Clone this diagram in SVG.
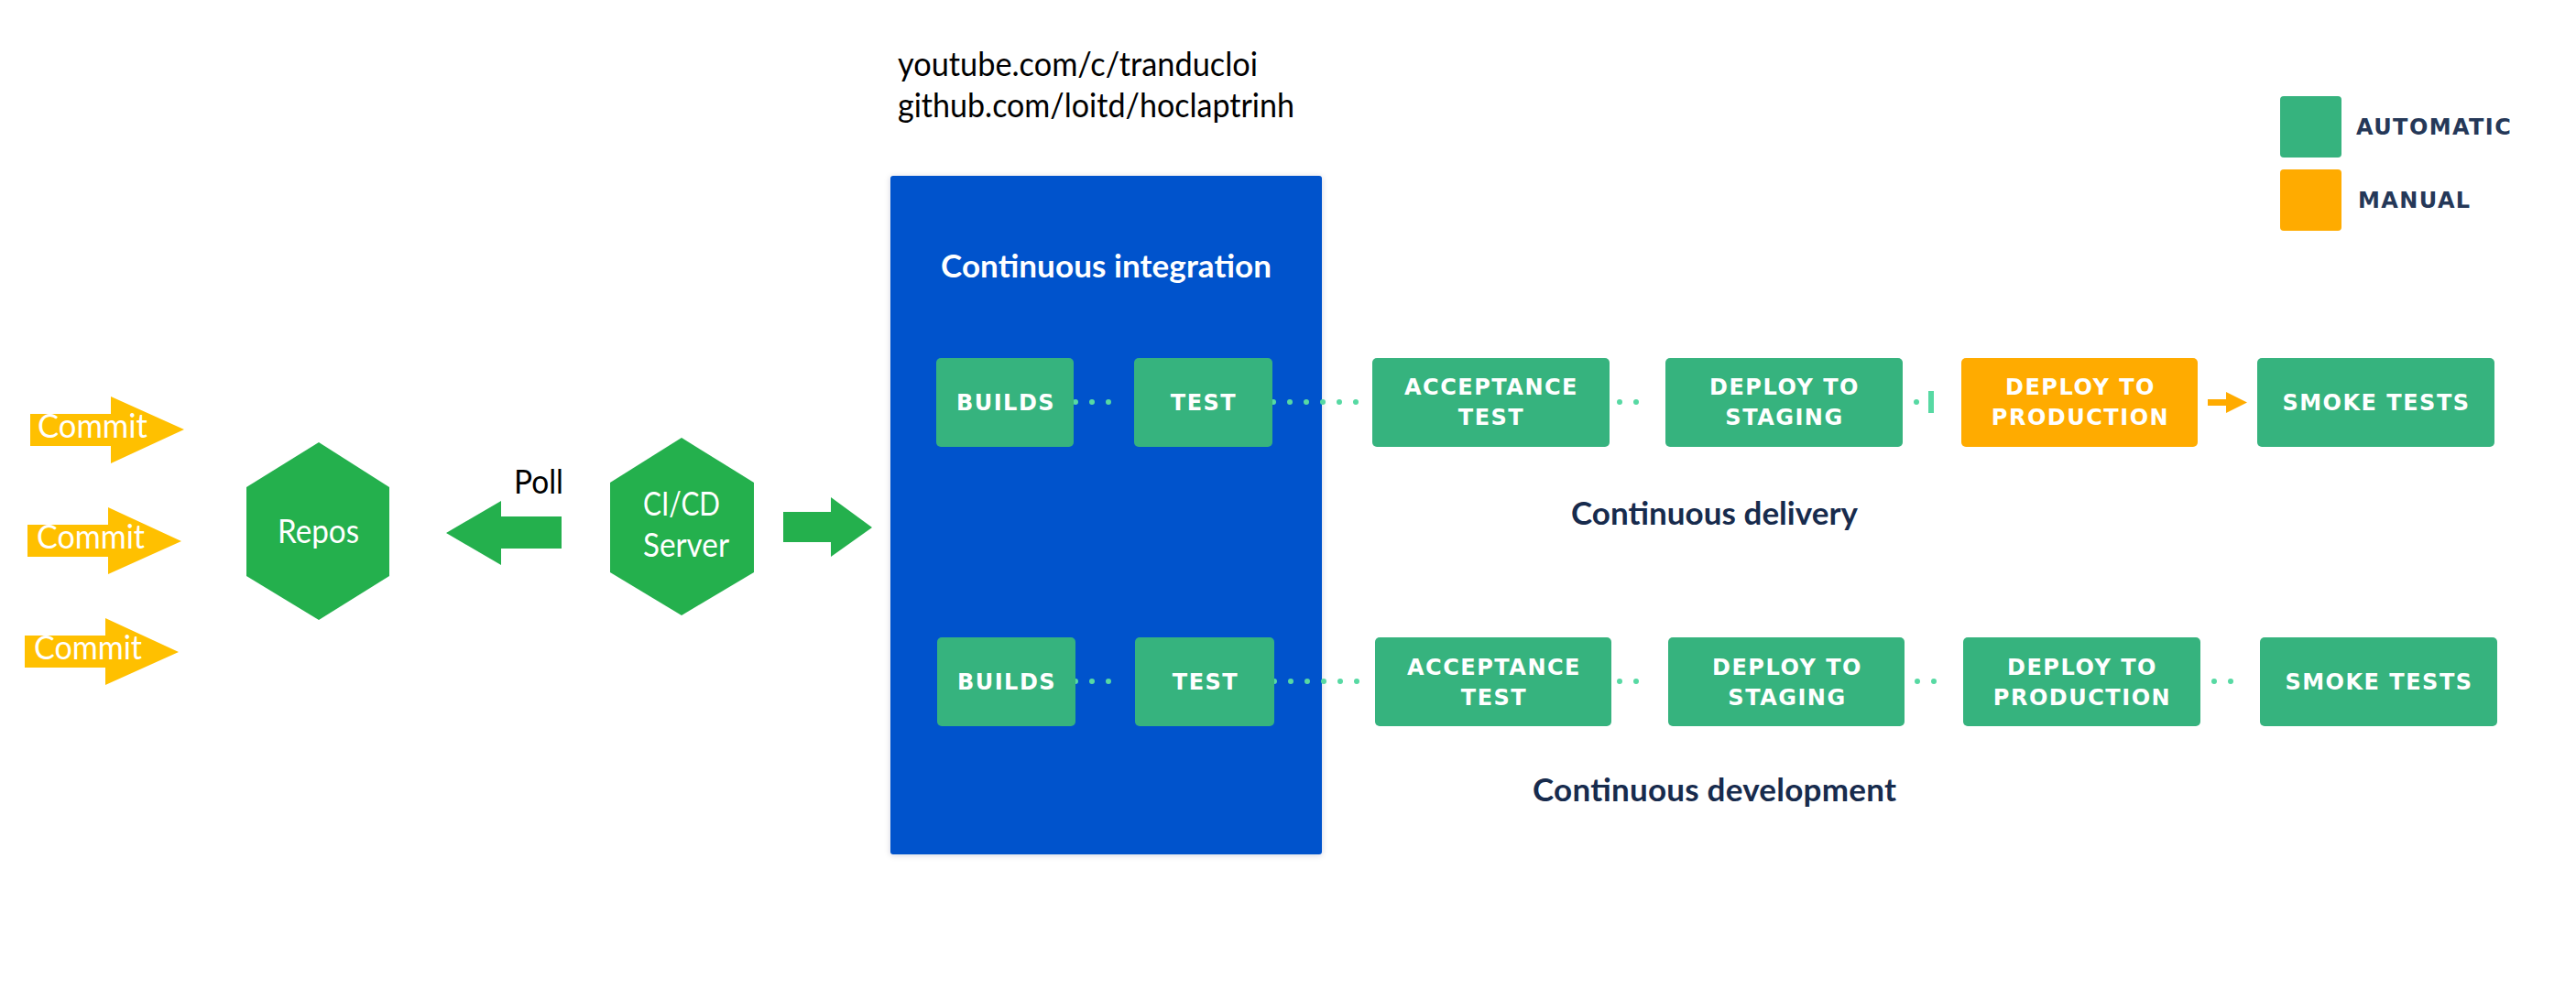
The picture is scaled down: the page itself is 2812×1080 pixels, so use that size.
<svg xmlns="http://www.w3.org/2000/svg" width="2812" height="1080" viewBox="0 0 2812 1080">
  <defs>
    <style>
      .cal { font-family: Lato, "Liberation Sans", sans-serif; font-size: 36px; }
      .wt { fill: #ffffff; }
      .hex { fill: #24B04D; }
      .commit { fill: #FFC000; }
      .auto { fill: #36B37E; }
      .manual { fill: #FFAB00; }
      .lbl { font-family: "DejaVu Sans", Verdana, sans-serif; font-weight: bold; font-size: 24px; letter-spacing: 1.5px; fill: #ffffff; text-anchor: middle; }
      .leg { font-family: "DejaVu Sans", Verdana, sans-serif; font-weight: bold; font-size: 24px; letter-spacing: 1.4px; fill: #253858; }
      .head { font-family: Lato, "Noto Sans", sans-serif; font-weight: 700; font-size: 35px; }
      .dots { stroke: #57D9A3; stroke-width: 6; stroke-linecap: round; stroke-dasharray: 0 18; fill: none; }
    </style>
    <filter id="sh" x="-5%" y="-5%" width="110%" height="110%">
      <feDropShadow dx="0" dy="1" stdDeviation="3" flood-color="#091E42" flood-opacity="0.18"/>
    </filter>
  </defs>

  <rect width="2812" height="1080" fill="#ffffff"/>

  <!-- header links -->
  <g id="links">
    <text class="cal" x="980" y="83" textLength="393" lengthAdjust="spacingAndGlyphs" fill="#000000">youtube.com/c/tranducloi</text>
    <text class="cal" x="980" y="128" textLength="433" lengthAdjust="spacingAndGlyphs" fill="#000000">github.com/loitd/hoclaptrinh</text>
  </g>

  <!-- commits -->
  <g id="commit1">
    <polygon class="commit" points="33,452 121,452 121,433 201,469 121,506 121,487 33,487"/>
    <text class="cal wt" x="41" y="478" textLength="120" lengthAdjust="spacingAndGlyphs">Commit</text>
  </g>
  <g id="commit2">
    <polygon class="commit" points="30,573 118,573 118,554 198,591 118,627 118,608 30,608"/>
    <text class="cal wt" x="40" y="599" textLength="118" lengthAdjust="spacingAndGlyphs">Commit</text>
  </g>
  <g id="commit3">
    <polygon class="commit" points="27,694 115,694 115,675 195,712 115,748 115,729 27,729"/>
    <text class="cal wt" x="37" y="720" textLength="118" lengthAdjust="spacingAndGlyphs">Commit</text>
  </g>

  <g id="repos">
    <polygon class="hex" points="348,483 425,532 425,629 348,677 269,629 269,532"/>
    <text class="cal wt" x="303" y="593" textLength="89" lengthAdjust="spacingAndGlyphs">Repos</text>
  </g>

  <g id="cicd-server">
    <polygon class="hex" points="744,478 823,527 823,625 744,672 666,625 666,527"/>
    <text class="cal wt" x="702" y="563" textLength="84" lengthAdjust="spacingAndGlyphs">CI/CD</text>
    <text class="cal wt" x="702" y="608" textLength="94" lengthAdjust="spacingAndGlyphs">Server</text>
  </g>

  <g id="ci-panel">
    <rect x="972" y="192" width="471" height="741" rx="3" fill="#0052CC" filter="url(#sh)"/>
    <text class="head wt" x="1027" y="303" textLength="361">Continuous integration</text>
  </g>

  <!-- connectors -->
  <g id="connectors">
    <polygon class="hex" points="487,582 547,547 547,564 613,564 613,599 547,599 547,617"/>
    <text class="cal" x="561" y="539" textLength="54" lengthAdjust="spacingAndGlyphs" fill="#000000">Poll</text>
    <polygon class="hex" points="855,559 907,559 907,543 952,576 907,608 907,592 855,592"/>
    <!-- row 1 -->
    <line class="dots" x1="1174" y1="439" x2="1228" y2="439"/>
    <line class="dots" x1="1390" y1="439" x2="1498" y2="439"/>
    <line class="dots" x1="1768" y1="439" x2="1804" y2="439"/>
    <line class="dots" x1="2092" y1="439" x2="2092" y2="439"/>
    <rect x="2105" y="427" width="6" height="24" fill="#57D9A3"/>
    <polygon class="manual" points="2410,436 2430,436 2430,428 2453,439.5 2430,451 2430,443 2410,443"/>
    <!-- row 2 -->
    <line class="dots" x1="1174" y1="744" x2="1228" y2="744"/>
    <line class="dots" x1="1391" y1="744" x2="1499" y2="744"/>
    <line class="dots" x1="1768" y1="744" x2="1804" y2="744"/>
    <line class="dots" x1="2093" y1="744" x2="2129" y2="744"/>
    <line class="dots" x1="2417" y1="744" x2="2453" y2="744"/>
  </g>

  <!-- row 1: continuous delivery -->
  <g id="cd-builds">
    <rect class="auto" x="1022" y="391" width="150" height="97" rx="5"/>
    <text class="lbl" x="1098" y="448">BUILDS</text>
  </g>
  <g id="cd-test">
    <rect class="auto" x="1238" y="391" width="151" height="97" rx="5"/>
    <text class="lbl" x="1314" y="448">TEST</text>
  </g>
  <g id="cd-acceptance">
    <rect class="auto" x="1498" y="391" width="259" height="97" rx="5"/>
    <text class="lbl" x="1628" y="431">ACCEPTANCE</text>
    <text class="lbl" x="1628" y="464">TEST</text>
  </g>
  <g id="cd-staging">
    <rect class="auto" x="1818" y="391" width="259" height="97" rx="5"/>
    <text class="lbl" x="1948" y="431">DEPLOY TO</text>
    <text class="lbl" x="1948" y="464">STAGING</text>
  </g>
  <g id="cd-production">
    <rect class="manual" x="2141" y="391" width="258" height="97" rx="5"/>
    <text class="lbl" x="2271" y="431">DEPLOY TO</text>
    <text class="lbl" x="2271" y="464">PRODUCTION</text>
  </g>
  <g id="cd-smoke">
    <rect class="auto" x="2464" y="391" width="259" height="97" rx="5"/>
    <text class="lbl" x="2594" y="448">SMOKE TESTS</text>
  </g>
  <g id="label-delivery">
    <text class="head" x="1715" y="573" textLength="313" fill="#172B4D" font-weight="600">Continuous delivery</text>
  </g>

  <!-- row 2: continuous development -->
  <g id="cdev-builds">
    <rect class="auto" x="1023" y="696" width="151" height="97" rx="5"/>
    <text class="lbl" x="1099" y="753">BUILDS</text>
  </g>
  <g id="cdev-test">
    <rect class="auto" x="1239" y="696" width="152" height="97" rx="5"/>
    <text class="lbl" x="1316" y="753">TEST</text>
  </g>
  <g id="cdev-acceptance">
    <rect class="auto" x="1501" y="696" width="258" height="97" rx="5"/>
    <text class="lbl" x="1631" y="737">ACCEPTANCE</text>
    <text class="lbl" x="1631" y="770">TEST</text>
  </g>
  <g id="cdev-staging">
    <rect class="auto" x="1821" y="696" width="258" height="97" rx="5"/>
    <text class="lbl" x="1951" y="737">DEPLOY TO</text>
    <text class="lbl" x="1951" y="770">STAGING</text>
  </g>
  <g id="cdev-production">
    <rect class="auto" x="2143" y="696" width="259" height="97" rx="5"/>
    <text class="lbl" x="2273" y="737">DEPLOY TO</text>
    <text class="lbl" x="2273" y="770">PRODUCTION</text>
  </g>
  <g id="cdev-smoke">
    <rect class="auto" x="2467" y="696" width="259" height="97" rx="5"/>
    <text class="lbl" x="2597" y="753">SMOKE TESTS</text>
  </g>
  <g id="label-development">
    <text class="head" x="1673" y="875" textLength="397" fill="#172B4D" font-weight="600">Continuous development</text>
  </g>

  <!-- legend -->
  <g id="legend-automatic">
    <rect class="auto" x="2489" y="105" width="67" height="67" rx="4"/>
    <text class="leg" x="2572" y="147">AUTOMATIC</text>
  </g>
  <g id="legend-manual">
    <rect class="manual" x="2489" y="185" width="67" height="67" rx="4"/>
    <text class="leg" x="2574" y="227">MANUAL</text>
  </g>
</svg>
